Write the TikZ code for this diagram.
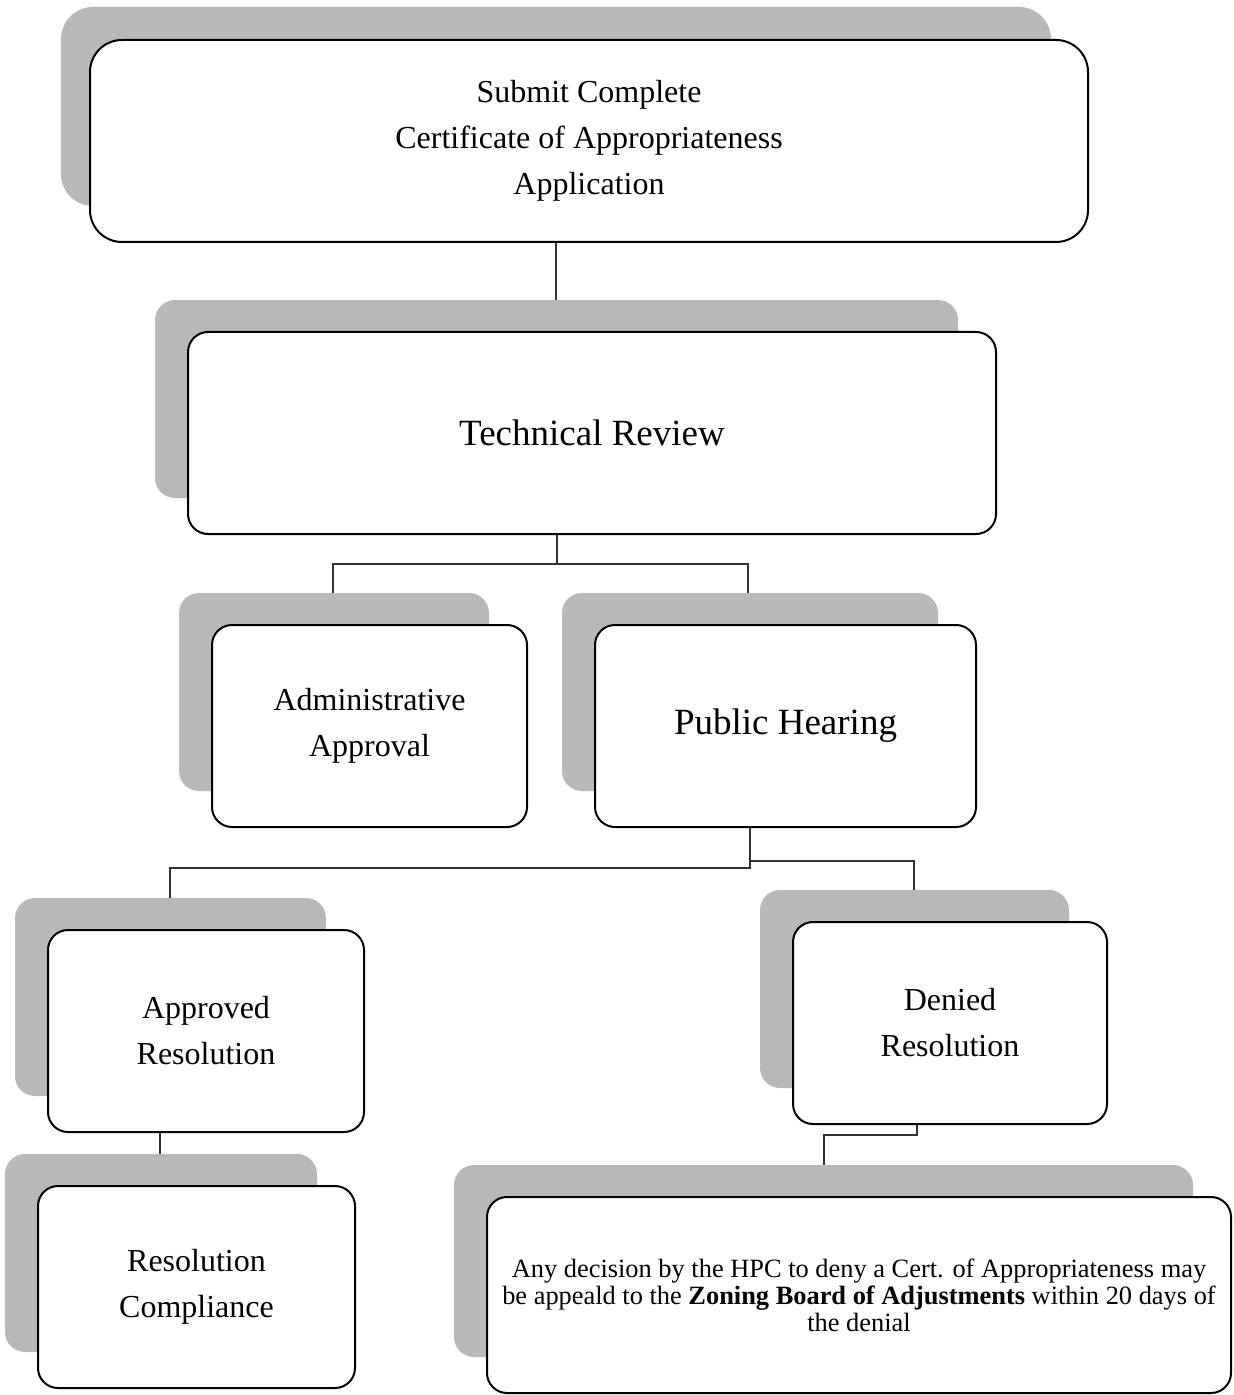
\documentclass[tikz,border=0pt]{standalone}
\usepackage{fontspec}
\setmainfont{Liberation Serif}
\usepackage{tikz}
\usetikzlibrary{calc}
\pgfdeclarelayer{links}
\pgfdeclarelayer{shade}
\pgfsetlayers{links,shade,main}
\tikzset{
	stage/.style={draw, line width=1pt, fill=white, rounded corners=10pt, align=center, inner sep=0pt, font=\fontsize{16}{23}\selectfont},
	bigtext/.style={font=\fontsize{18.5}{23}\selectfont},
	link/.style={line width=0.8pt, black!80},
	shadowgrey/.style={fill=black!28, rounded corners=10pt}
}
\begin{document}
\begin{tikzpicture}[x=0.5pt, y=-0.5pt]
			%%%%% START %%%%%
			\useasboundingbox (0, 0) rectangle (1233, 1395);
			
			\node[stage, rounded corners=16pt, minimum width=499pt, minimum height=101pt] (submit) at (589, 141) {Submit Complete\\Certificate of Appropriateness\\Application};
			\node[stage, bigtext, minimum width=404pt, minimum height=101pt] (review) at (592, 433) {Technical Review};
			
			\node[stage, minimum width=157.5pt, minimum height=101pt] (admin) at (369.5, 726) {Administrative\\Approval};
			\node[stage, bigtext, minimum width=190.5pt, minimum height=101pt] (hearing) at (785.5, 726) {Public Hearing};
			
			\node[stage, minimum width=158pt, minimum height=101pt] (approved) at (206, 1031) {Approved\\Resolution};
			\node[stage, minimum width=157pt, minimum height=101pt] (denied) at (950, 1023) {Denied\\Resolution};
			
			\node[stage, minimum width=158.5pt, minimum height=101pt] (comply) at (196.5, 1287) {Resolution\\Compliance};
			\node[stage, font=\fontsize{13.2}{13.5}\selectfont, minimum width=372pt, minimum height=98pt] (appeal) at (859, 1295) {Any decision by the HPC to deny a Cert. of Appropriateness may\\be appeald to the \textbf{Zoning Board of Adjustments} within 20 days of\\the denial};
			
			\begin{pgfonlayer}{shade}
				\fill[shadowgrey, rounded corners=16pt] ([shift={(-28, -32)}]submit.north west) rectangle ([shift={(-38, -37)}]submit.south east);
				\foreach \n in {review, admin, hearing, approved, denied, comply, appeal}
					\fill[shadowgrey] ([shift={(-32, -31)}]\n.north west) rectangle ([shift={(-39, -37)}]\n.south east);
			\end{pgfonlayer}
			
			\begin{pgfonlayer}{links}
				\draw[link] (556, 0 |- submit.south) -- (556, 0 |- review.north);
				\draw[link] (557, 0 |- review.south) -- (557, 564) -| (333, 0 |- admin.north);
				\draw[link] (557, 564) -| (748, 0 |- hearing.north);
				\draw[link] (750, 0 |- hearing.south) -- (750, 868) -| (170, 0 |- approved.north);
				\draw[link] (750, 861) -| (914, 0 |- denied.north);
				\draw[link] (160, 0 |- approved.south) -- (160, 0 |- comply.north);
				\draw[link] (917, 0 |- denied.south) -- (917, 1135) -| (824, 0 |- appeal.north);
			\end{pgfonlayer}
			%%%%% END %%%%%
\end{tikzpicture}
\end{document}
